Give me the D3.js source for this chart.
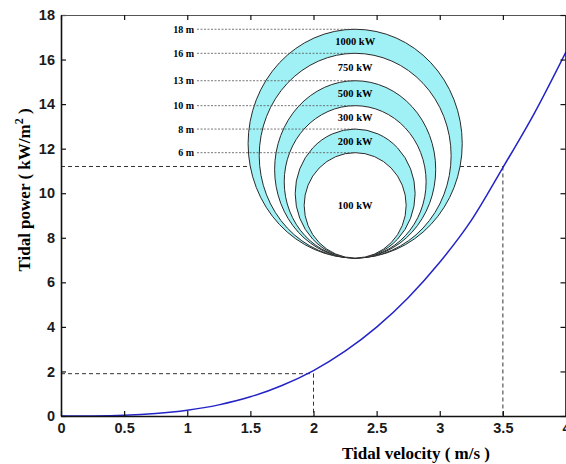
<!DOCTYPE html>
<html>
<head>
<meta charset="utf-8">
<script src="https://cdn.jsdelivr.net/npm/d3@7"></script>
<style>
  html, body { margin: 0; padding: 0; background: #fff; }
  svg { display: block; }
</style>
</head>
<body>
<svg id="chart" width="566" height="464"></svg>
<script>
// ---- data ----
const velocity = [0, 0.25, 0.5, 0.75, 1, 1.25, 1.5, 1.75, 2, 2.25, 2.5, 2.75, 3, 3.25, 3.5, 3.75, 4];
const power    = [0, 0.004, 0.03, 0.11, 0.26, 0.5, 0.86, 1.37, 2.04, 2.91, 3.99, 5.31, 6.9, 8.78, 11.15, 13.6, 16.35];
const xTicks = [0, 0.5, 1, 1.5, 2, 2.5, 3, 3.5, 4];
const yTicks = [0, 2, 4, 6, 8, 10, 12, 14, 16, 18];
const guideVelocity = [2, 3.5];
const guidePower = [1.9, 11.2];

// inset rotor diagram (read in the chart's axis units)
const ringDiameter = ["6 m", "8 m", "10 m", "13 m", "16 m", "18 m"];
const ringRating   = ["100 kW", "200 kW", "300 kW", "500 kW", "750 kW", "1000 kW"];
const ringTop      = [11.82, 12.88, 13.93, 15.05, 16.28, 17.36];
const ringHalfWidth = [0.404, 0.475, 0.562, 0.638, 0.76, 0.848];
const ringBase = 7.09;
const ringCenterV = 2.33;

// ---- layout ----
const svg = d3.select("#chart");
const x = d3.scaleLinear().domain([0, 4]).range([61, 566]);
const y = d3.scaleLinear().domain([0, 18]).range([416, 15]);
const tickFont = "'Liberation Sans', Arial, sans-serif";
const serif = "'Liberation Serif', 'Times New Roman', serif";

// guides (dashed) drawn first so the rings cover them
const g = svg.append("g");
guideVelocity.forEach((v, i) => {
  const p = guidePower[i];
  g.append("line")
    .attr("x1", x(0)).attr("x2", x(v)).attr("y1", y(p)).attr("y2", y(p))
    .attr("stroke", "#333").attr("stroke-width", 1).attr("stroke-dasharray", "4,3");
  g.append("line")
    .attr("x1", x(v)).attr("x2", x(v)).attr("y1", y(p)).attr("y2", y(0))
    .attr("stroke", "#333").attr("stroke-width", 1).attr("stroke-dasharray", "4,3");
});

// rings, largest first: alternating cyan / white bands
const rings = ringDiameter.map((d, i) => ({d, r: ringRating[i], top: ringTop[i], hw: ringHalfWidth[i], i}));
const ringG = svg.append("g");
rings.slice().reverse().forEach((rg, k) => {
  const cyPx = (y(rg.top) + y(ringBase)) / 2;
  const ry = (y(ringBase) - y(rg.top)) / 2;
  const rx = x(ringCenterV + rg.hw) - x(ringCenterV);
  ringG.append("ellipse")
    .attr("cx", x(ringCenterV)).attr("cy", cyPx)
    .attr("rx", rx).attr("ry", ry)
    .attr("fill", k % 2 === 0 ? "#a0f1f5" : "#ffffff")
    .attr("stroke", "#2a2a2a").attr("stroke-width", 1);
});

// diameter labels and fine dashed leaders
rings.forEach(rg => {
  ringG.append("line")
    .attr("x1", 197).attr("x2", x(ringCenterV))
    .attr("y1", y(rg.top)).attr("y2", y(rg.top))
    .attr("stroke", "#555").attr("stroke-width", 0.8).attr("stroke-dasharray", "2,1.5");
  ringG.append("text")
    .attr("x", 194).attr("y", y(rg.top)).attr("dy", "0.35em")
    .attr("text-anchor", "end")
    .attr("font-family", serif).attr("font-weight", "bold").attr("font-size", 10)
    .text(rg.d);
});
// rating labels
rings.forEach((rg, i) => {
  const ly = i === 0 ? (y(rg.top) + y(ringBase)) / 2 : (y(rg.top) + y(ringTop[i - 1])) / 2;
  ringG.append("text")
    .attr("x", x(ringCenterV)).attr("y", ly).attr("dy", "0.35em")
    .attr("text-anchor", "middle")
    .attr("font-family", serif).attr("font-weight", "bold").attr("font-size", 10.5)
    .text(rg.r);
});

// curve
const line = d3.line().x(d => x(d[0])).y(d => y(d[1])).curve(d3.curveMonotoneX);
svg.append("path")
  .datum(velocity.map((v, i) => [v, power[i]]))
  .attr("d", line)
  .attr("fill", "none").attr("stroke", "#2323c8").attr("stroke-width", 1.5);

// axes
const fmt = d3.format("~g");
const axB = svg.append("g").attr("transform", `translate(0,${y(0)})`)
  .call(d3.axisBottom(x).tickValues(xTicks).tickFormat(fmt).tickSizeInner(-5).tickSizeOuter(0).tickPadding(7));
const axL = svg.append("g").attr("transform", `translate(${x(0)},0)`)
  .call(d3.axisLeft(y).tickValues(yTicks).tickFormat(fmt).tickSizeInner(-5).tickSizeOuter(0).tickPadding(6));
const axT = svg.append("g").attr("transform", `translate(0,${y(18)})`)
  .call(d3.axisTop(x).tickValues(xTicks).tickFormat("").tickSizeInner(-5).tickSizeOuter(0));
const axR = svg.append("g").attr("transform", `translate(${x(4) - 0.5},0)`)
  .call(d3.axisRight(y).tickValues(yTicks).tickFormat("").tickSizeInner(-5).tickSizeOuter(0));
[axB, axL, axT, axR].forEach(a => {
  a.select(".domain").attr("stroke", "#111").attr("stroke-width", 1.6);
  a.selectAll(".tick line").attr("stroke", "#111").attr("stroke-width", 1.2);
  a.selectAll("text").attr("font-family", tickFont).attr("font-weight", "bold")
    .attr("font-size", 14.5).attr("fill", "#1a1a1a");
});
axT.select(".domain").attr("stroke", "#555").attr("stroke-width", 1.2);

// axis titles
svg.append("text")
  .attr("x", 416).attr("y", 459)
  .attr("text-anchor", "middle")
  .attr("font-family", serif).attr("font-weight", "bold").attr("font-size", 17)
  .text("Tidal velocity ( m/s )");

const yt = svg.append("text")
  .attr("transform", "translate(30,190) rotate(-90)")
  .attr("text-anchor", "middle")
  .attr("font-family", serif).attr("font-weight", "bold").attr("font-size", 17);
yt.append("tspan").text("Tidal power ( kW/m");
yt.append("tspan").attr("dy", -7).attr("font-size", 12).text("2");
yt.append("tspan").attr("dy", 7).text(" )");
</script>
</body>
</html>
